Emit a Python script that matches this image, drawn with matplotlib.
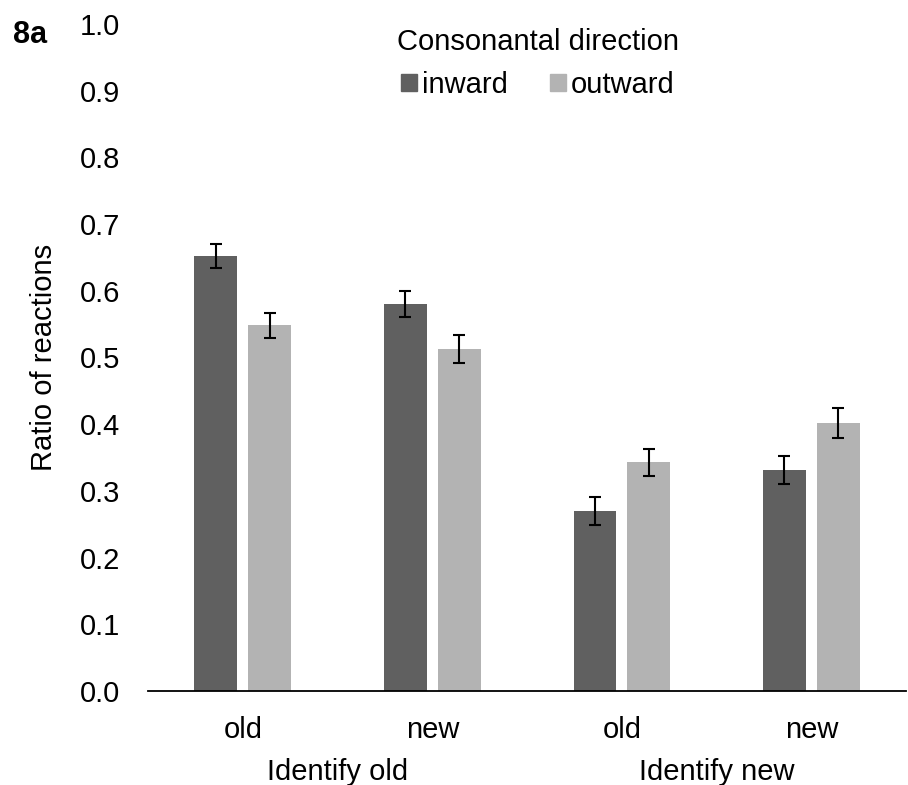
import numpy as np
import matplotlib
matplotlib.use("Agg")
import matplotlib.pyplot as plt
from matplotlib.patches import Patch

plt.rcParams['font.family'] = ['Liberation Sans', 'DejaVu Sans']

# ---------------------------------------------------------------------------
#  Data
# ---------------------------------------------------------------------------
conditions = ["old", "new", "old", "new"]
groups = ["Identify old", "Identify new"]
series_names = ["inward", "outward"]
inward = [0.652, 0.580, 0.270, 0.332]
outward = [0.548, 0.513, 0.343, 0.402]
inward_err = [0.018, 0.019, 0.021, 0.021]
outward_err = [0.019, 0.021, 0.020, 0.023]
yticks = [0.0, 0.1, 0.2, 0.3, 0.4, 0.5, 0.6, 0.7, 0.8, 0.9, 1.0]

dark = "#606060"
light = "#b3b3b3"
fs = 21

fig = plt.figure(figsize=(9.08, 7.85), dpi=100)
ax = fig.add_axes([0.163, 0.1198, 0.835, 0.8496])

x = np.arange(len(conditions))
w = 0.226
off = 0.142
err_style = dict(ecolor="black", elinewidth=1.5, capsize=4.5, capthick=1.5)
ax.bar(x - off, inward, w, color=dark, yerr=inward_err, error_kw=err_style)
ax.bar(x + off, outward, w, color=light, yerr=outward_err, error_kw=err_style)

ax.set_xlim(-0.5, len(conditions) - 0.5)
ax.set_ylim(0, 1.0)
ax.set_yticks(yticks)
ax.set_yticklabels([f"{t:.1f}" for t in yticks], fontsize=fs)
ax.set_xticks(x)
ax.set_xticklabels(conditions, fontsize=fs)
ax.tick_params(axis="y", length=0, pad=20)
ax.tick_params(axis="x", length=0, pad=18)

for side in ["top", "right", "left"]:
    ax.spines[side].set_visible(False)
ax.spines["bottom"].set_linewidth(1.3)

ax.set_ylabel("Ratio of reactions", fontsize=fs, labelpad=16)

# group labels under the category labels
for i, g in enumerate(groups):
    ax.text(2 * i + 0.5, -0.121, g, transform=ax.get_xaxis_transform(),
            ha="center", va="center", fontsize=fs)

handles = [Patch(color=dark), Patch(color=light)]
leg = ax.legend(handles, series_names, title="Consonantal direction",
                loc="upper center", bbox_to_anchor=(0.514, 1.033), ncol=2,
                frameon=False, fontsize=fs, title_fontsize=fs,
                handlelength=0.55, handleheight=0.55, handletextpad=0.15,
                columnspacing=1.45)

fig.text(0.014, 0.955, "8a", fontsize=22, fontweight="bold", va="center")

fig.savefig("out.png", dpi=100)
